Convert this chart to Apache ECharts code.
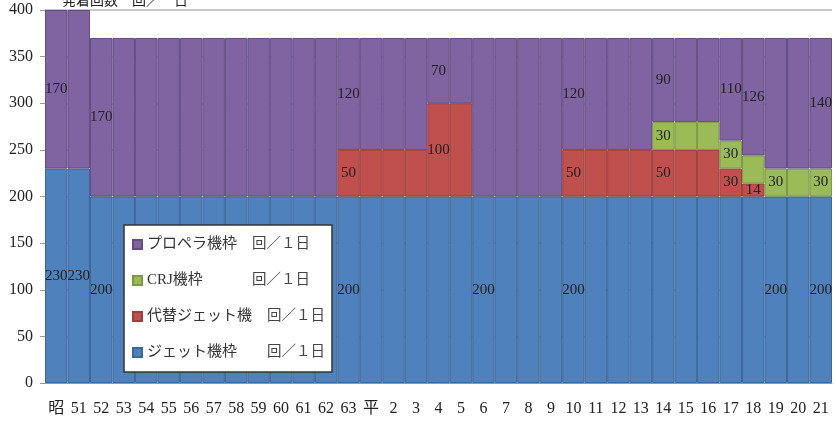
<!DOCTYPE html>
<html>
<head>
<meta charset="utf-8">
<script src="https://cdn.jsdelivr.net/npm/echarts@6/dist/echarts.min.js"></script>
<style>
  html, body { margin: 0; padding: 0; background: #fff; }
  #chart { width: 836px; height: 421px; }
</style>
</head>
<body>
<div id="chart"></div>
<script>
// 年度ラベル（昭和50〜平成21）
const categories = ['昭\n50', '51', '52', '53', '54', '55', '56', '57', '58', '59', '60', '61', '62', '63',
  '平', '2', '3', '4', '5', '6', '7', '8', '9', '10', '11', '12', '13', '14', '15', '16', '17', '18', '19', '20', '21']

const jetValues = [230, 230, 200, 200, 200, 200, 200, 200, 200, 200, 200, 200, 200, 200,
  200, 200, 200, 200, 200, 200, 200, 200, 200, 200, 200, 200, 200, 200, 200, 200, 200, 200, 200, 200, 200]
const altJetValues = [null, null, null, null, null, null, null, null, null, null, null, null, null, 50,
  50, 50, 50, 100, 100, null, null, null, null, 50, 50, 50, 50, 50, 50, 50, 30, 14, null, null, null]
const crjValues = [null, null, null, null, null, null, null, null, null, null, null, null, null, null,
  null, null, null, null, null, null, null, null, null, null, null, null, null, 30, 30, 30, 30, 30, 30, 30, 30]
const propValues = [170, 170, 170, 170, 170, 170, 170, 170, 170, 170, 170, 170, 170, 120,
  120, 120, 120, 70, 70, 170, 170, 170, 170, 120, 120, 120, 120, 90, 90, 90, 110, 126, 140, 140, 140]

// データラベルを表示する列
const jetLabelIdx = [0, 1, 2, 13, 19, 23, 32, 34]
const altJetLabelIdx = [13, 17, 23, 27, 30, 31]
const crjLabelIdx = [27, 30, 32, 34]
const propLabelIdx = [0, 2, 13, 17, 23, 27, 30, 31, 34]

const yTicks = [0, 50, 100, 150, 200, 250, 300, 350, 400]

const names = ['ジェット機枠', '代替ジェット機', 'CRJ機枠', 'プロペラ機枠']
// 凡例の「回／１日」の位置は2通り
const legendText = {
  'プロペラ機枠': '{a|プロペラ機枠}{c|回／１日}',
  'CRJ機枠': '{a|CRJ機枠}{c|回／１日}',
  '代替ジェット機': '{b|代替ジェット機}{c|回／１日}',
  'ジェット機枠': '{b|ジェット機枠}{c|回／１日}'
}

const FONT = "'Liberation Serif', 'Noto Sans CJK JP', serif"

function withLabels(values, idx) {
  return values.map((v, i) => {
    if (v == null) return '-'
    return idx.includes(i) ? { value: v, label: { show: true } } : v
  })
}

function makeSeries(name, values, idx, color, border) {
  return {
    name,
    type: 'bar',
    stack: 'total',
    barCategoryGap: '0%',
    data: withLabels(values, idx),
    itemStyle: { color, borderColor: border, borderWidth: 1 },
    label: {
      show: false,
      position: 'inside',
      color: '#222',
      fontFamily: FONT,
      fontSize: 15
    }
  }
}

const chart = echarts.init(document.getElementById('chart'))

chart.setOption({
  animation: false,
  title: {
    text: '発着回数　回／　日',
    left: 57,
    top: -11,
    textStyle: { fontFamily: FONT, fontSize: 14, fontWeight: 'normal', color: '#222' }
  },
  grid: { left: 45, right: 4, top: 10, bottom: 38, outerBoundsMode: 'none', containLabel: false },
  legend: {
    orient: 'vertical',
    left: 124,
    top: 225,
    padding: [12, 7, 12, 8],
    itemGap: 21,
    itemWidth: 9,
    itemHeight: 9,
    icon: 'rect',
    backgroundColor: '#fff',
    borderColor: '#333',
    borderWidth: 1.5,
    data: ['プロペラ機枠', 'CRJ機枠', '代替ジェット機', 'ジェット機枠'],
    formatter: n => legendText[n],
    textStyle: {
      fontFamily: FONT,
      fontSize: 15,
      color: '#333',
      rich: {
        a: { width: 105, fontFamily: FONT, fontSize: 15, color: '#333' },
        b: { width: 120, fontFamily: FONT, fontSize: 15, color: '#333' },
        c: { fontFamily: FONT, fontSize: 14.5, color: '#444' }
      }
    }
  },
  xAxis: {
    type: 'category',
    data: categories,
    axisTick: { show: false },
    axisLine: { lineStyle: { color: '#999' } },
    axisLabel: {
      interval: 0,
      margin: 16,
      fontFamily: FONT,
      fontSize: 16,
      color: '#222',
      lineHeight: 20,
      verticalAlign: 'top'
    }
  },
  yAxis: {
    type: 'value',
    min: yTicks[0],
    max: yTicks[yTicks.length - 1],
    interval: 50,
    axisLine: { show: true, lineStyle: { color: '#999' } },
    axisTick: { show: true, length: 5, lineStyle: { color: '#999' } },
    splitLine: { show: true, lineStyle: { color: '#b5b5b5', width: 1.5 } },
    axisLabel: { fontFamily: FONT, fontSize: 16, color: '#222', margin: 12 }
  },
  series: [
    makeSeries(names[0], jetValues, jetLabelIdx, '#4F81BD', '#3D6797'),
    makeSeries(names[1], altJetValues, altJetLabelIdx, '#C0504D', '#9C3E3B'),
    makeSeries(names[2], crjValues, crjLabelIdx, '#9BBB59', '#7C9746'),
    makeSeries(names[3], propValues, propLabelIdx, '#8064A2', '#634D80')
  ]
})
</script>
</body>
</html>
